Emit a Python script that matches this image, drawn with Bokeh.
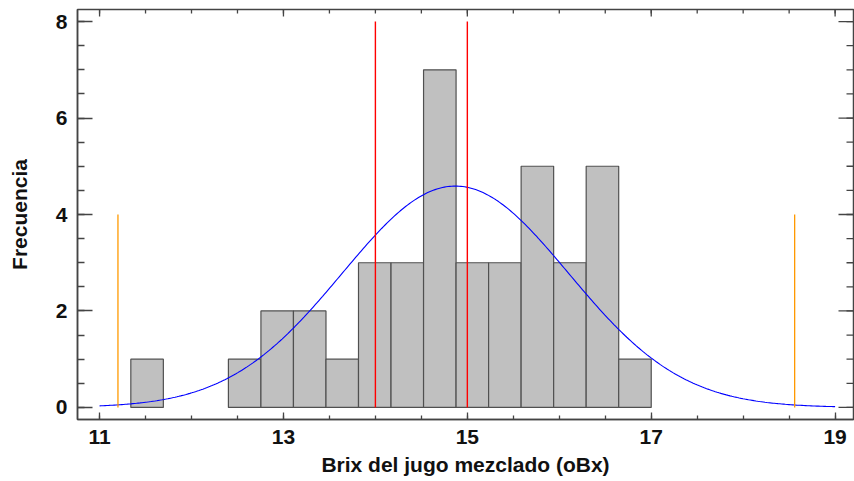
import numpy as np
from bokeh.plotting import figure
from bokeh.models import Range1d, LinearAxis, FixedTicker, ColumnDataSource
from bokeh.embed import file_html
from bokeh.resources import INLINE

# Histogram of the blended juice Brix readings (16 equal bins)
bin_low = 11.34
bin_high = 17.0
counts = [1, 0, 0, 1, 2, 2, 1, 3, 3, 7, 3, 3, 5, 3, 5, 1]

# Fitted normal distribution
fit_mean = 14.87
fit_sd = 1.23
curve_from = 11.0
curve_to = 19.0

# Reference lines
spec_limits = [14.0, 15.0]
spec_height = 8.0
sigma_limits = [11.2, 18.56]
sigma_height = 4.0

x_major = [11, 13, 15, 17, 19]
y_major = [0, 2, 4, 6, 8]

X_LO, X_HI = 10.76, 19.2
Y_LO, Y_HI = -0.25, 8.25

FONT = "Liberation Sans"
AXIS_COLOR = "#444444"

edges = np.linspace(bin_low, bin_high, len(counts) + 1)
bin_w = edges[1] - edges[0]
keep = [i for i, c in enumerate(counts) if c > 0]
bars = ColumnDataSource(dict(
    left=[edges[i] for i in keep],
    right=[edges[i + 1] for i in keep],
    top=[counts[i] for i in keep],
))

n_obs = sum(counts)
xs = np.linspace(curve_from, curve_to, 400)
ys = n_obs * bin_w * np.exp(-0.5 * ((xs - fit_mean) / fit_sd) ** 2) / (fit_sd * np.sqrt(2 * np.pi))

p = figure(
    width=854, height=481,
    x_range=Range1d(X_LO, X_HI), y_range=Range1d(Y_LO, Y_HI),
    output_backend="svg", toolbar_location=None,
    min_border_left=77, min_border_right=1, min_border_top=9, min_border_bottom=62,
    x_axis_location=None, y_axis_location=None,
)
p.xgrid.visible = False
p.ygrid.visible = False
p.outline_line_color = AXIS_COLOR
p.outline_line_width = 1.5
p.background_fill_color = "white"
p.border_fill_color = "white"

p.quad(left="left", right="right", top="top", bottom=0, source=bars,
       fill_color="#c0c0c0", line_color="#505050", line_width=1.2)
p.line(xs, ys, line_color="#0000ff", line_width=1.1)
p.segment(x0=spec_limits, x1=spec_limits, y0=[0, 0], y1=[spec_height] * 2,
          line_color="#ff0000", line_width=1.4)
p.segment(x0=sigma_limits, x1=sigma_limits, y0=[0, 0], y1=[sigma_height] * 2,
          line_color="#ff9900", line_width=1.3)

x_minor = list(np.arange(11, 19.01, 0.5))
y_minor = list(np.arange(0, 8.01, 0.5))
x_ticker = FixedTicker(ticks=x_major, minor_ticks=x_minor)
y_ticker = FixedTicker(ticks=y_major, minor_ticks=y_minor)


def style(ax, major_in, minor_in):
    ax.axis_line_color = AXIS_COLOR
    ax.axis_line_width = 1.5
    ax.major_tick_line_color = AXIS_COLOR
    ax.minor_tick_line_color = AXIS_COLOR
    ax.major_tick_line_width = 1.3
    ax.minor_tick_line_width = 1.3
    ax.major_tick_in = major_in
    ax.major_tick_out = 0
    ax.minor_tick_in = minor_in
    ax.minor_tick_out = 0
    ax.major_label_text_font = FONT
    ax.major_label_text_font_style = "bold"
    ax.major_label_text_font_size = "21px"
    ax.major_label_text_color = "#111111"
    ax.axis_label_text_font = FONT
    ax.axis_label_text_font_style = "bold"
    ax.axis_label_text_font_size = "21px"
    ax.axis_label_text_color = "#111111"


bottom = LinearAxis(ticker=x_ticker, axis_label="Brix del jugo mezclado (oBx)")
style(bottom, 7, 4)
bottom.major_label_standoff = 10
bottom.axis_label_standoff = 6
p.add_layout(bottom, "below")

left = LinearAxis(ticker=y_ticker, axis_label="Frecuencia")
style(left, 15, 7)
left.major_label_standoff = 10
left.axis_label_standoff = 22
p.add_layout(left, "left")

# Mirrored inward ticks on the top and right edges of the frame
tick_kw = dict(line_color=AXIS_COLOR, line_width=1.3, length_units="screen")
p.ray(x=x_major, y=[Y_HI] * len(x_major), length=7, angle=-np.pi / 2, **tick_kw)
p.ray(x=x_minor, y=[Y_HI] * len(x_minor), length=4, angle=-np.pi / 2, **tick_kw)
p.ray(x=[X_HI] * len(y_major), y=y_major, length=15, angle=np.pi, **tick_kw)
p.ray(x=[X_HI] * len(y_minor), y=y_minor, length=7, angle=np.pi, **tick_kw)

open("out.html", "w").write(file_html(p, INLINE))
